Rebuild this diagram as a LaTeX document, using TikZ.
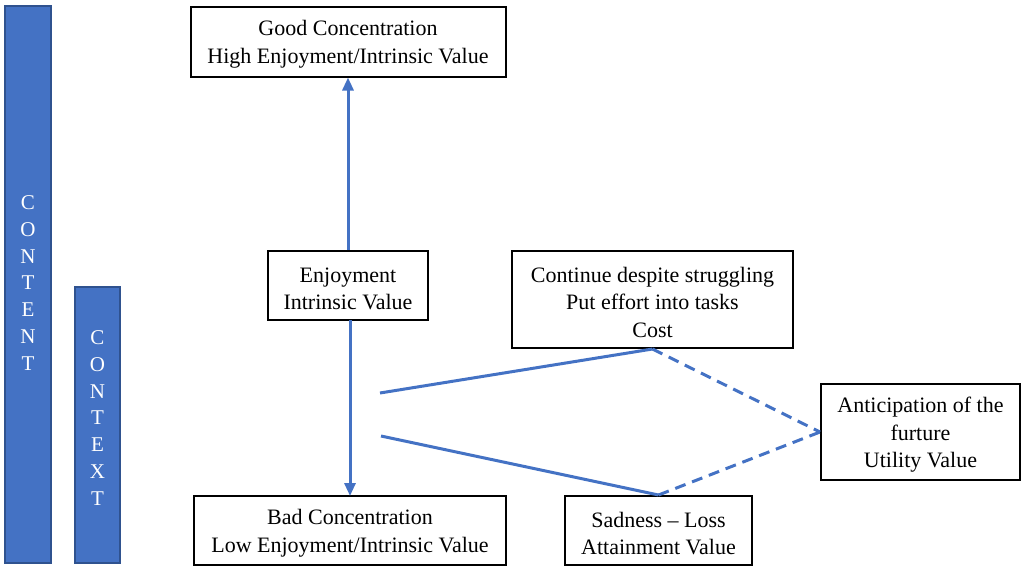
\documentclass[tikz,border=0pt]{standalone}
\usepackage{fontspec}
\setmainfont{Liberation Serif}
\usetikzlibrary{arrows.meta,calc}
\definecolor{barblue}{HTML}{4472C4}
\definecolor{barline}{HTML}{2F528F}
\newcommand\topstrut{\rule{0pt}{21pt}}
\begin{document}
\begin{tikzpicture}[x=1pt,y=-1pt,
  box/.style={draw=black,line width=2pt,fill=white,inner sep=0pt,align=center,
    font=\fontsize{22}{27.5}\selectfont},
  bar/.style={draw=barline,line width=1.5pt,fill=barblue},
  bartext/.style={text=white,align=center,inner sep=0pt,font=\fontsize{21}{26.7}\selectfont},
  conn/.style={draw=barblue,line width=3pt},
  arr/.style={conn,-{Triangle[length=13pt,width=11pt]}},
  dconn/.style={conn,dash pattern=on 11pt off 7pt}]
\useasboundingbox (0,0) rectangle (1022,568);
% bars
\path[bar] (5,6) rectangle (51,563);
\node[bartext] (content) at (28,283) {C\\O\\N\\T\\E\\N\\T};
\path[bar] (75,287) rectangle (120,563);
\node[bartext] (context) at (97.5,418) {C\\O\\N\\T\\E\\X\\T};
% boxes
\node[box,minimum width=315pt,minimum height=70pt] (good) at (348,41.5)
  {\topstrut Good Concentration\\High Enjoyment/Intrinsic Value};
\node[box,minimum width=160pt,minimum height=69pt] (enj) at (348,285.5)
  {\topstrut Enjoyment\\Intrinsic Value};
\node[box,minimum width=312pt,minimum height=69pt] (bad) at (350,530.5)
  {\topstrut Bad Concentration\\Low Enjoyment/Intrinsic Value};
\node[box,minimum width=187pt,minimum height=69pt] (sad) at (658.5,530.5)
  {\topstrut Sadness -- Loss\\Attainment Value};
\node[box,minimum width=281pt,minimum height=97pt] (cont) at (652.5,299.5)
  {\topstrut Continue despite struggling\\Put effort into tasks\\Cost};
\node[box,minimum width=199pt,minimum height=96pt] (ant) at (920.5,432)
  {\topstrut Anticipation of the\\furture\\Utility Value};
% connectors
\coordinate (c1) at (380,393);
\coordinate (c2) at (381,436);
\coordinate (d1) at (350,320);
\coordinate (d2) at (350,496);
\draw[arr] (enj.north) -- (good.south);
\draw[arr] (d1) -- (d2);
\draw[conn] (c1) -- (cont.south);
\draw[conn] (c2) -- (sad.north);
\draw[dconn] (cont.south) -- (ant.west);
\draw[dconn] (sad.north) -- (ant.west);
\end{tikzpicture}
\end{document}
